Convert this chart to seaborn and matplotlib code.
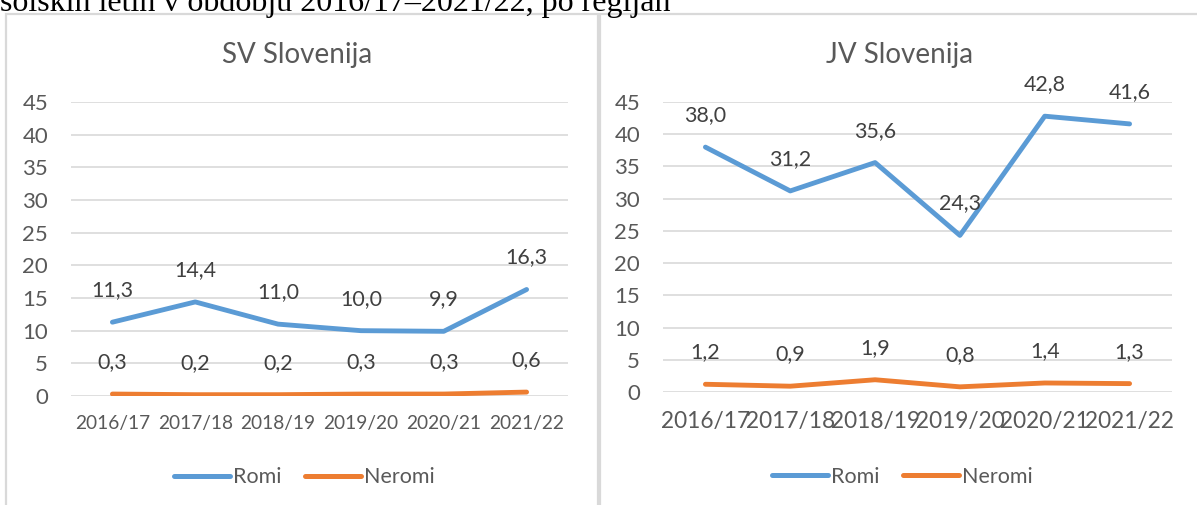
import pandas as pd
import matplotlib.pyplot as plt
import seaborn as sns
from matplotlib.lines import Line2D
from matplotlib.patches import Rectangle

years = ['2016/17', '2017/18', '2018/19', '2019/20', '2020/21', '2021/22']
sv_romi = [11.3, 14.4, 11.0, 10.0, 9.9, 16.3]
sv_neromi = [0.3, 0.2, 0.2, 0.3, 0.3, 0.6]
jv_romi = [38.0, 31.2, 35.6, 24.3, 42.8, 41.6]
jv_neromi = [1.2, 0.9, 1.9, 0.8, 1.4, 1.3]
series = ['Romi', 'Neromi']
colors = {'Romi': '#5B9BD5', 'Neromi': '#ED7D31'}
text_col = '#595959'

sns.set_style('white')
plt.rcParams['font.family'] = ['Lato', 'DejaVu Sans']

def make_df(romi, neromi):
    n = len(years)
    return pd.DataFrame({
        'leto': list(range(n)) * 2,
        'vrednost': romi + neromi,
        'skupina': ['Romi'] * n + ['Neromi'] * n,
    })

W, H = 1197, 505
fig = plt.figure(figsize=(W / 100, H / 100), dpi=100)

# caption, cut off at the top as in the source page
fig.text(0.0, 1 - 11 / H, 'šolskih letih v obdobju 2016/17–2021/22, po regijah',
         family='Liberation Serif', fontsize=23, va='baseline', ha='left', color='black')

# panel frames
for x0, x1 in [(6, 598), (600, 1210)]:
    fig.patches.append(Rectangle((x0 / W, -0.05), (x1 - x0) / W, (H - 14) / H + 0.05,
                                 transform=fig.transFigure, fill=False,
                                 edgecolor='#D9D9D9', linewidth=1.6))

# title, data, axes rect, x tick size, legend y, title x
panels = [
    ('SV Slovenija', sv_romi, sv_neromi, [71 / W, 109 / H, 497 / W, 294 / H], 13.8, -0.276, 0.455),
    ('JV Slovenija', jv_romi, jv_neromi, [663 / W, 113 / H, 509 / W, 290 / H], 16.3, -0.293, 0.464),
]

for title, romi, neromi, rect, xfs, leg_y, title_x in panels:
    ax = fig.add_axes(rect)
    df = make_df(romi, neromi)
    sns.lineplot(data=df, x='leto', y='vrednost', hue='skupina', hue_order=series,
                 palette=colors, linewidth=3.5, legend=False, ax=ax)
    for line in ax.get_lines():
        line.set_solid_capstyle('round')
        line.set_solid_joinstyle('round')
    for name, vals in zip(series, [romi, neromi]):
        for i, v in enumerate(vals):
            ax.annotate(f'{v:.1f}'.replace('.', ','), (i, v), xytext=(0, 23),
                        textcoords='offset points', ha='center', va='center',
                        fontsize=15.4, color='#404040')
    ax.set_xlim(-0.5, 5.5)
    ax.set_ylim(0, 45)
    ax.set_yticks(range(0, 50, 5))
    ax.set_xticks(range(len(years)))
    ax.set_xticklabels(years, fontsize=xfs, color=text_col)
    ax.tick_params(axis='y', labelsize=16, labelcolor=text_col, length=0, pad=16.5)
    ax.tick_params(axis='x', length=0, pad=14)
    ax.grid(axis='y', color='#D9D9D9', linewidth=1.2)
    ax.set_axisbelow(True)
    for s in ax.spines.values():
        s.set_visible(False)
    ax.set_xlabel('')
    ax.set_ylabel('')
    ax.set_title(title, fontsize=20, color=text_col, pad=28, x=title_x)
    handles = [Line2D([], [], color=colors[s], linewidth=3.6, solid_capstyle='round') for s in series]
    ax.legend(handles, series, loc='center', bbox_to_anchor=(0.47, leg_y), ncol=2,
              frameon=False, fontsize=15.5, handlelength=2.6, handletextpad=0.14,
              columnspacing=1.07, labelcolor=text_col)

fig.savefig('out.png', dpi=100)
